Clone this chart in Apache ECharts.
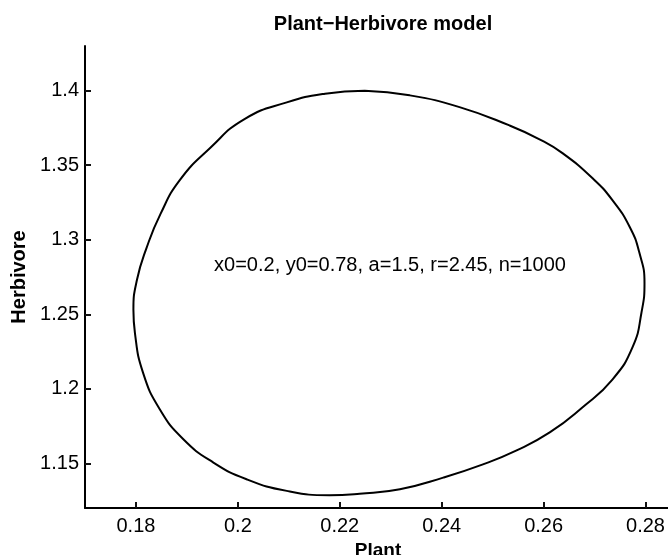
<!DOCTYPE html>
<html>
<head>
<meta charset="utf-8">
<script src="https://cdn.jsdelivr.net/npm/echarts@6/dist/echarts.min.js"></script>
<style>
  html, body { margin: 0; padding: 0; background: #fff; }
  #main { width: 668px; height: 555px; }
</style>
</head>
<body>
<div id="main"></div>
<script>
// orbit, going clockwise from the top
var plant = [
  0.2249, 0.2337, 0.2435, 0.2533, 0.2592, 0.2637, 0.2696, 0.2735, 0.2769, 0.2788,
  0.2798, 0.2792, 0.2775, 0.2735, 0.2676, 0.2612, 0.2546, 0.2481, 0.2403, 0.2318,
  0.2239, 0.2180, 0.2096, 0.2017, 0.1952, 0.1893, 0.1847, 0.1814, 0.1798, 0.1795,
  0.1802, 0.1821, 0.1848, 0.1886, 0.1945, 0.2013, 0.2096, 0.2171, 0.2249
];
var herbivore = [
  1.4000, 1.3969, 1.3890, 1.3767, 1.3674, 1.3581, 1.3413, 1.3266, 1.3086, 1.2912,
  1.2711, 1.2510, 1.2283, 1.2062, 1.1875, 1.1707, 1.1585, 1.1493, 1.1404, 1.1326,
  1.1296, 1.1286, 1.1315, 1.1393, 1.1505, 1.1661, 1.1861, 1.2107, 1.2374, 1.2530,
  1.2731, 1.2947, 1.3172, 1.3400, 1.3614, 1.3810, 1.3922, 1.3980, 1.4000
];

var points = plant.map(function (x, i) { return [x, herbivore[i]]; });

var chart = echarts.init(document.getElementById('main'), null, { renderer: 'canvas' });

var fontName = 'Liberation Sans, Arial, sans-serif';
function fmt(v) { return String(+(+v).toFixed(3)); }

var option = {
    backgroundColor: '#ffffff',
    animation: false,
    title: {
        text: 'Plant\u2212Herbivore model',
        left: 378,
        top: 9,
        textAlign: 'center',
        textStyle: { fontFamily: fontName, fontSize: 20, fontWeight: 'bold', color: '#000' }
    },
    grid: { left: 85, top: 46, width: 586, height: 462, outerBoundsMode: 'none' },
    xAxis: {
        type: 'value',
        min: 0.17,
        max: 0.285,
        name: 'Plant',
        nameLocation: 'middle',
        nameGap: 30,
        nameTextStyle: { fontFamily: fontName, fontSize: 19, fontWeight: 'bold', color: '#000' },
        axisLine: { show: true, lineStyle: { color: '#000', width: 2 } },
        axisTick: { show: true, inside: true, length: 6, lineStyle: { color: '#111111', width: 2 } },
        axisLabel: { showMinLabel: false, showMaxLabel: false, formatter: fmt, margin: 8,
                     fontFamily: fontName, fontSize: 20, color: '#000' },
        splitLine: { show: false }
    },
    yAxis: {
        type: 'value',
        min: 1.12,
        max: 1.43,
        name: 'Herbivore',
        nameLocation: 'middle',
        nameGap: 56,
        nameTextStyle: { fontFamily: fontName, fontSize: 20, fontWeight: 'bold', color: '#000' },
        axisLine: { show: true, lineStyle: { color: '#000', width: 2 } },
        axisTick: { show: true, inside: true, length: 6, lineStyle: { color: '#111111', width: 2 } },
        axisLabel: { showMinLabel: false, showMaxLabel: false, formatter: fmt, margin: 6,
                     fontFamily: fontName, fontSize: 20, color: '#000' },
        splitLine: { show: false }
    },
    graphic: [{
        type: 'text',
        x: 390,
        y: 265,
        style: {
            text: 'x0=0.2, y0=0.78, a=1.5, r=2.45, n=1000',
            font: '20px ' + fontName,
            fill: '#000',
            align: 'center',
            verticalAlign: 'middle'
        }
    }],
    series: [{
        type: 'line',
        data: points,
        smooth: 0.5,
        showSymbol: false,
        clip: false,
        lineStyle: { color: '#000', width: 2 }
    }]
};

chart.setOption(option);
</script>
</body>
</html>
